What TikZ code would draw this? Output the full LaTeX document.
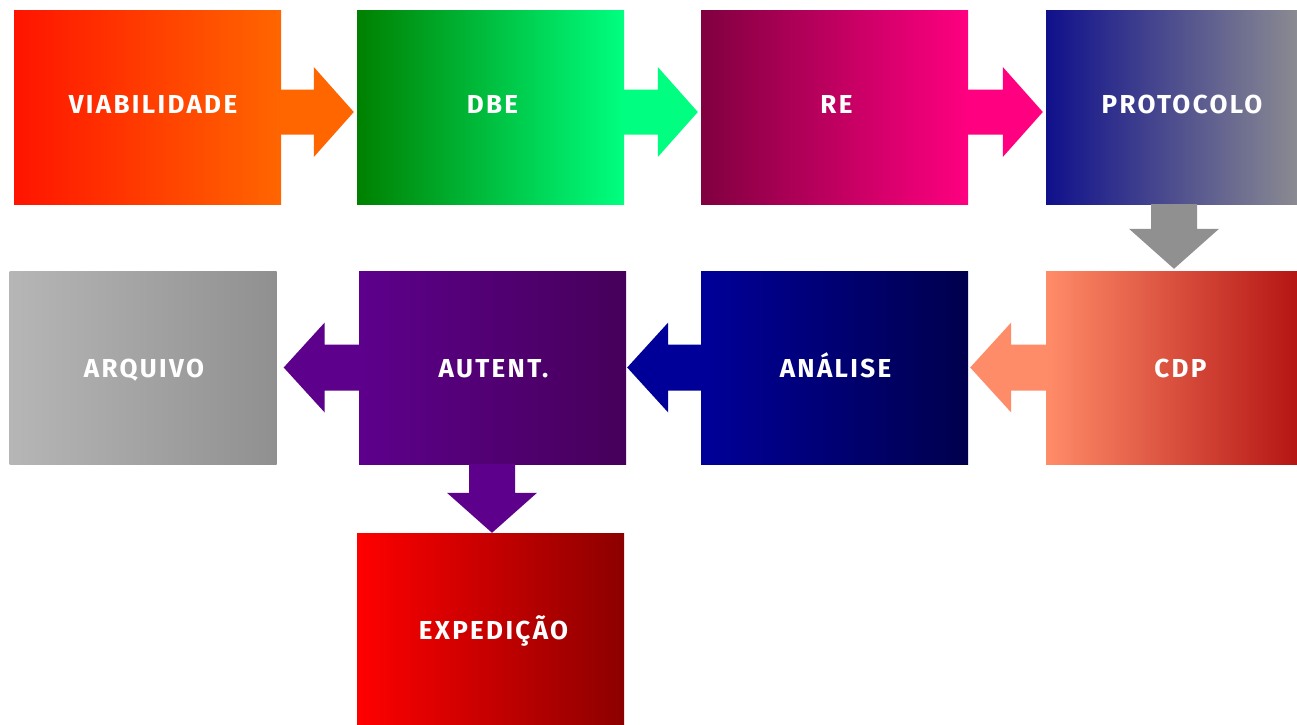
\documentclass[tikz,border=0pt]{standalone}
\usepackage{fontspec}
\setmainfont{Fira Sans}[LetterSpace=9]
\usetikzlibrary{calc}
\definecolor{viaL}{RGB}{255,20,0}\definecolor{viaR}{RGB}{255,102,0}
\definecolor{dbeL}{RGB}{0,128,0}\definecolor{dbeR}{RGB}{0,255,128}
\definecolor{reL}{RGB}{128,0,64}\definecolor{reR}{RGB}{255,0,128}
\definecolor{proL}{RGB}{16,16,140}\definecolor{proR}{RGB}{146,146,146}
\definecolor{cdpL}{RGB}{255,140,105}\definecolor{cdpR}{RGB}{176,14,14}
\definecolor{anaL}{RGB}{0,0,153}\definecolor{anaR}{RGB}{0,0,77}
\definecolor{autL}{RGB}{93,0,140}\definecolor{autR}{RGB}{70,0,90}
\definecolor{arqL}{RGB}{182,182,182}\definecolor{arqR}{RGB}{144,144,144}
\definecolor{expL}{RGB}{255,0,0}\definecolor{expR}{RGB}{140,0,0}
\definecolor{arrGray}{RGB}{144,144,144}
\newcommand{\blkR}[3]{\fill[#1] ($(#2)+(0,-22.5)$) -- ($(#3)+(-40,-22.5)$) -- ($(#3)+(-40,-45)$) -- (#3) -- ($(#3)+(-40,45)$) -- ($(#3)+(-40,22.5)$) -- ($(#2)+(0,22.5)$) -- cycle;}
\newcommand{\blkL}[3]{\fill[#1] ($(#2)+(0,-23)$) -- ($(#3)+(41,-23)$) -- ($(#3)+(41,-45)$) -- (#3) -- ($(#3)+(41,45)$) -- ($(#3)+(41,23)$) -- ($(#2)+(0,23)$) -- cycle;}
\newcommand{\blkD}[3]{\fill[#1] ($(#2)+(-23,0)$) -- ($(#3)+(-23,-40)$) -- ($(#3)+(-45,-40)$) -- (#3) -- ($(#3)+(45,-40)$) -- ($(#3)+(23,-40)$) -- ($(#2)+(23,0)$) -- cycle;}
\tikzset{
  box/.style={rectangle, inner sep=0pt, minimum width=267pt, minimum height=194pt,
    text=white, font=\fontsize{26}{30}\selectfont\bfseries},
  row1/.style={text height=17.9pt, text depth=4pt},
  row2/.style={minimum height=193pt, text height=20.9pt, text depth=0pt},
  row3/.style={text height=19.9pt, text depth=0pt},
  tx/.style={execute at begin node={\kern#1pt}},
}
\begin{document}
\begin{tikzpicture}[x=1pt,y=-1pt]
\clip (0,0) rectangle (1297,724);
\fill[white] (0,0) rectangle (1297,724);
% row 1
\node[box, row1, tx=11, left color=viaL, right color=viaR] (v) at (147.5,107) {VIABILIDADE};
\node[box, row1, tx=4, left color=dbeL, right color=dbeR] (d) at (490.5,107) {DBE};
\node[box, row1, tx=4, left color=reL, right color=reR] (r) at (834.5,107) {RE};
\node[box, row1, tx=5, left color=proL, right color=proR] (p) at (1179.5,107) {PROTOCOLO};
% row 2
\node[box, row2, tx=2, left color=arqL, right color=arqR] (ar) at (143,367.5) {ARQUIVO};
\node[box, row2, tx=2, left color=autL, right color=autR] (au) at (492.5,367.5) {AUTENT.};
\node[box, row2, tx=2, left color=anaL, right color=anaR] (a) at (834.5,367.5) {ANÁLISE};
\node[box, row2, tx=2, left color=cdpL, right color=cdpR] (c) at (1179.5,367.5) {CDP};
% row 3
\node[box, row3, tx=6, left color=expL, right color=expR] (e) at (490.5,630) {EXPEDIÇÃO};
% connectors
\blkR{viaR}{$(v.east)+(0,5)$}{$(d.west)+(-3,5)$}
\blkR{dbeR}{$(d.east)+(0,5)$}{$(r.west)+(-3,5)$}
\blkR{reR}{$(r.east)+(0,5)$}{$(p.west)+(-3,5)$}
\blkD{arrGray}{$(p.south)+(-5.5,0)$}{$(c.north)+(-5.5,-2)$}
\blkL{cdpL}{c.west}{$(a.east)+(2,0)$}
\blkL{anaL}{a.west}{$(au.east)+(1,0)$}
\blkL{autL}{au.west}{$(ar.east)+(7,0)$}
\blkD{autL}{$(au.south)+(-0.5,0)$}{$(e.north)+(1.5,0)$}
\end{tikzpicture}
\end{document}
